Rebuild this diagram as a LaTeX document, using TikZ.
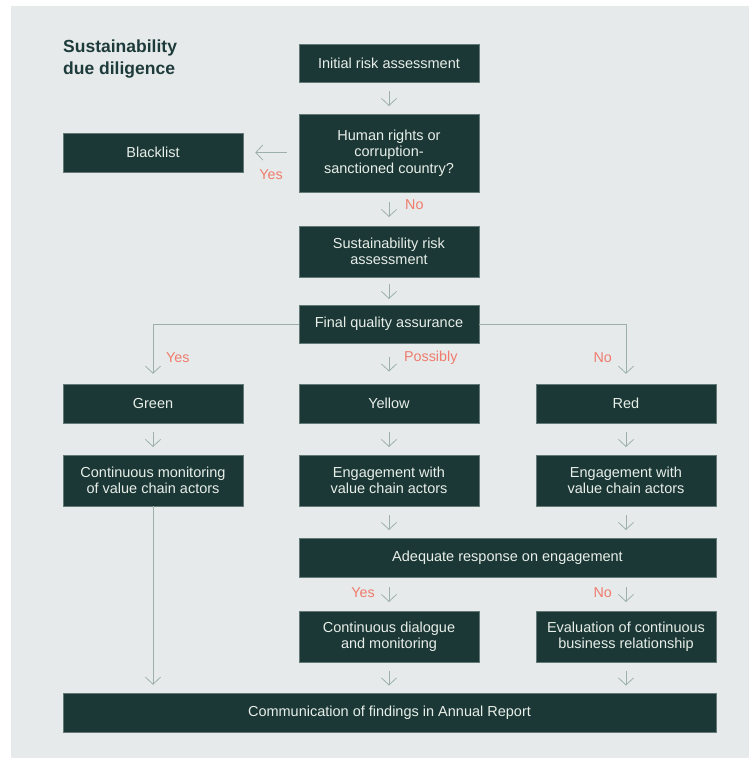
\documentclass[tikz,border=0pt]{standalone}
\usepackage{fontspec}
\setmainfont{Liberation Sans}
\usetikzlibrary{arrows.meta,calc}
\definecolor{panel}{HTML}{E6EAEB}
\definecolor{boxfill}{HTML}{1B3836}
\definecolor{boxtext}{HTML}{E8EEE8}
\definecolor{linegray}{HTML}{9DAFAB}
\definecolor{salmon}{HTML}{F07B6C}
\definecolor{titlec}{HTML}{1E3B3B}
\begin{document}
\begin{tikzpicture}[x=1pt,y=-1pt,
  box/.style={rectangle, fill=boxfill, draw=linegray!55!boxfill, line width=0.5pt, text=boxtext,
    minimum width=180pt, align=center, font=\fontsize{14.5}{16.5}\selectfont, inner sep=0pt},
  arr/.style={draw=linegray, line width=0.8pt, -{Straight Barb[length=7pt,width=15pt]}},
  lbl/.style={text=salmon, font=\fontsize{14.3}{16}\selectfont, inner sep=0pt}]
\useasboundingbox (0,0) rectangle (749,758);
\fill[panel] (11,6) rectangle (749,758);
\node[anchor=north west, align=left, text=titlec, inner sep=0pt,
  font=\fontsize{17.5}{22}\selectfont\bfseries] (title) at (63,39.5) {Sustainability\\due diligence};

\node[box, minimum height=38pt] (init) at (389,63) {Initial risk assessment};
\node[box, minimum height=78pt] (hr) at (389,153) {Human rights or\\corruption-\\sanctioned country?};
\node[box, minimum height=39pt] (black) at (153,152.5) {Blacklist};
\node[box, minimum height=51pt] (sra) at (389,251.5) {Sustainability risk\\assessment};
\node[box, minimum height=38pt] (fqa) at (389,324) {Final quality assurance};
\node[box, minimum height=39pt] (green) at (153,403.5) {Green};
\node[box, minimum height=39pt] (yellow) at (389,403.5) {Yellow};
\node[box, minimum height=39pt] (red) at (626,403.5) {Red};
\node[box, minimum height=51pt] (contmon) at (153,480.5) {Continuous monitoring\\of value chain actors};
\node[box, minimum height=51pt] (engy) at (389,480.5) {Engagement with\\value chain actors};
\node[box, minimum height=51pt] (engr) at (626,480.5) {Engagement with\\value chain actors};
\node[box, minimum height=39pt, minimum width=417pt] (adeq) at (507.5,557.5) {Adequate response on engagement};
\node[box, minimum height=51pt] (dial) at (389,636.5) {Continuous dialogue\\and monitoring};
\node[box, minimum height=51pt] (eval) at (626,636.5) {Evaluation of continuous\\business relationship};
\node[box, minimum height=39pt, minimum width=653pt] (comm) at (389.5,712.5) {Communication of findings in Annual Report};

% short arrows (same column)
\foreach \a/\b in {init/hr, hr/sra, sra/fqa, fqa/yellow, green/contmon, yellow/engy, red/engr}{
  \draw[arr] ($(\a.south)!0.5!(\b.north)+(0,-7)$) -- ($(\a.south)!0.5!(\b.north)+(0,8)$);
}
% short arrows into / out of the wide boxes
\foreach \a/\b in {engy/adeq, engr/adeq, dial/comm, eval/comm}{
  \draw[arr] ($(\a.south)!0.5!(\b.north -| \a.south)+(0,-7)$) -- ($(\a.south)!0.5!(\b.north -| \a.south)+(0,8)$);
}
\foreach \b in {dial, eval}{
  \draw[arr] ($(adeq.south -| \b.north)!0.5!(\b.north)+(0,-7)$) -- ($(adeq.south -| \b.north)!0.5!(\b.north)+(0,8)$);
}

% blacklist arrow
\draw[arr] ($(hr.west |- black.east)+(-12,0)$) -- ($(black.east)+(12,0)$);
\node[lbl] (yes1) at (271,175) {Yes};
\node[lbl, anchor=west] (no1) at (405,205) {No};

% branches from final quality assurance
\draw[arr] (fqa.west) -- (fqa.west -| green.north) -- ($(green.north)+(0,-10)$);
\draw[arr] (fqa.east) -- (fqa.east -| red.north) -- ($(red.north)+(0,-10)$);
\node[lbl, anchor=west] (yes2) at (166,358) {Yes};
\node[lbl, anchor=west] (poss) at (404,358) {Possibly};
\node[lbl, anchor=east] (no2) at (612,358) {No};

% bottom
\node[lbl, anchor=east] (yes3) at (375,593) {Yes};
\node[lbl, anchor=east] (no3) at (612,593) {No};
\draw[arr] (contmon.south) -- ($(contmon.south |- comm.north)+(0,-8)$);
\end{tikzpicture}
\end{document}
